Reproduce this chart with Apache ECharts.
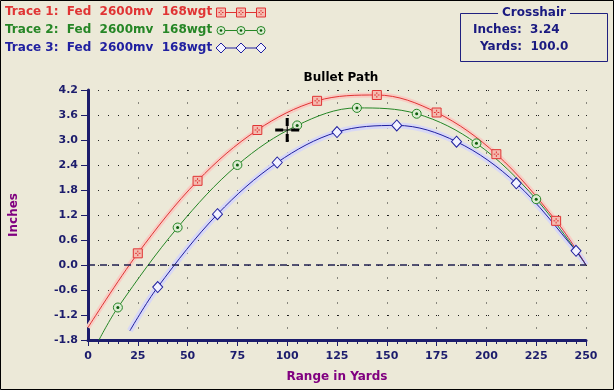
<!DOCTYPE html>
<html><head><meta charset="utf-8">
<script src="https://cdn.jsdelivr.net/npm/echarts@6/dist/echarts.min.js"></script>
<style>html,body{margin:0;padding:0;background:#ece9d8;}#c{width:614px;height:390px;}</style>
</head><body><div id="c"></div>
<script>
// ---- data ----
const traceNames = ['Trace 1:  Fed  2600mv  168wgt', 'Trace 2:  Fed  2600mv  168wgt', 'Trace 3:  Fed  2600mv  168wgt'];
const trace1X = [0, 25, 55, 85, 115, 145, 175, 205, 235, 250];
const trace1Y = [-1.50, 0.28, 2.02, 3.24, 3.94, 4.08, 3.66, 2.66, 1.06, 0.00];
const trace2X = [5.5, 15, 45, 75, 105, 135, 165, 195, 225, 250];
const trace2Y = [-1.80, -1.02, 0.90, 2.40, 3.35, 3.77, 3.63, 2.92, 1.58, 0.00];
const trace3X = [21, 35, 65, 95, 125, 155, 185, 215, 245, 250];
const trace3Y = [-1.58, -0.53, 1.22, 2.46, 3.19, 3.35, 2.96, 1.96, 0.34, 0.00];
const crossYards = [100.0];
const crossInches = [3.24];
const xTickLabels = ['0', '25', '50', '75', '100', '125', '150', '175', '200', '225', '250'];
const yTickLabels = ['-1.8', '-1.2', '-0.6', '0.0', '0.6', '1.2', '1.8', '2.4', '3.0', '3.6', '4.2'];

// ---- build ----
const pairs = (xs, ys) => xs.map((x, i) => [x, ys[i]]);
const marks = (xs, ys) => pairs(xs, ys).slice(1, 9);
const t1 = pairs(trace1X, trace1Y), t2 = pairs(trace2X, trace2Y), t3 = pairs(trace3X, trace3Y);

const RED = '#e03434', RED_FILL = '#f4bcb0', RED_HALO = '#f8cdc4';
const GREEN = '#268626', GREEN_FILL = '#dcecd2', GREEN_DOT = '#0e5e0e';
const BLUE = '#2020a0', BLUE_FILL = '#f2f2ff', BLUE_HALO = '#d8d8f6';
const NAVY = '#1c1c6c', PURPLE = '#800080';
const FONT = 'DejaVu Sans';
const squareSym = 'path://M0,0H10V10H0Z M5,2V4 M5,6V8 M2,5H4 M6,5H8';
const crossSym = 'path://M10.5,0h3v8h-3z M10.5,16h3v8h-3z M0,10.5h8v3h-8z M16,10.5h8v3h-8z M11.5,8h1v8h-1z M8,11.5h3.5v1h-3.5z M12.5,11.5h3.5v1h-3.5z';

const lineBase = {type: 'line', smooth: 0.35, showSymbol: false, symbol: 'none', silent: true, animation: false};

const chart = echarts.init(document.getElementById('c'), null, {renderer: 'canvas'});

const legendRows = [12, 30, 47.5];
const legendColors = [RED, GREEN, BLUE];
const graphics = [
  {type: 'rect', shape: {x: 0.5, y: 0.5, width: 613, height: 389}, style: {fill: 'none', stroke: '#000', lineWidth: 1}, z: 100},
  {type: 'rect', shape: {x: 460.5, y: 13.5, width: 147, height: 48}, style: {fill: 'none', stroke: '#202080', lineWidth: 1}},
  {type: 'text', x: 534, y: 13, style: {text: 'Crosshair', fill: '#1a1a80', font: 'bold 12px ' + FONT, align: 'center', verticalAlign: 'middle', backgroundColor: '#ece9d8', padding: [0, 4]}},
  {type: 'text', x: 473, y: 30, style: {text: 'Inches:  ' + crossInches[0].toFixed(2), fill: '#1a1a80', font: 'bold 12px ' + FONT, align: 'left', verticalAlign: 'middle'}},
  {type: 'text', x: 480, y: 47, style: {text: 'Yards:  ' + crossYards[0].toFixed(1), fill: '#1a1a80', font: 'bold 12px ' + FONT, align: 'left', verticalAlign: 'middle'}}
];
const seg = (x1, y1, x2, y2, c) => ({type: 'line', shape: {x1: x1, y1: y1, x2: x2, y2: y2}, style: {stroke: c, lineWidth: 1}});
legendRows.forEach((y, i) => {
  graphics.push({type: 'text', x: 5, y: y, style: {text: traceNames[i], fill: legendColors[i], font: 'bold 12px ' + FONT, align: 'left', verticalAlign: 'middle'}});
  graphics.push(seg(217, y + 0.5, 265, y + 0.5, legendColors[i]));
  [221, 241, 261].forEach(cx => {
    if (i === 0) {
      graphics.push({type: 'rect', shape: {x: cx - 4.5, y: y - 4, width: 9, height: 9}, style: {fill: RED_FILL, stroke: RED, lineWidth: 1}});
      graphics.push(seg(cx, y - 2, cx, y - 0.5, RED));
      graphics.push(seg(cx, y + 1.5, cx, y + 3, RED));
      graphics.push(seg(cx - 2.5, y + 0.5, cx - 1, y + 0.5, RED));
      graphics.push(seg(cx + 1, y + 0.5, cx + 2.5, y + 0.5, RED));
    } else if (i === 1) {
      graphics.push({type: 'circle', shape: {cx: cx, cy: y + 0.5, r: 4}, style: {fill: GREEN_FILL, stroke: GREEN, lineWidth: 1}});
      graphics.push({type: 'circle', shape: {cx: cx, cy: y + 0.5, r: 1.3}, style: {fill: GREEN_DOT}});
    } else {
      graphics.push({type: 'polygon', shape: {points: [[cx, y - 4.5], [cx + 5, y + 0.5], [cx, y + 5.5], [cx - 5, y + 0.5]]}, style: {fill: BLUE_FILL, stroke: BLUE, lineWidth: 1}});
    }
  });
});

chart.setOption({
  backgroundColor: '#ece9d8',
  animation: false,
  title: {text: 'Bullet Path', left: 336, top: 67, textAlign: 'center', textStyle: {fontFamily: FONT, fontSize: 12, fontWeight: 'bold', color: '#000'}},
  grid: {left: 86, right: 28, top: 90, bottom: 50, containLabel: false},
  xAxis: {
    type: 'value', min: 0, max: 250, interval: 25,
    name: 'Range in Yards', nameLocation: 'middle', nameGap: 31,
    nameTextStyle: {fontFamily: FONT, fontSize: 12, fontWeight: 'bold', color: PURPLE},
    axisLine: {show: true, onZero: false, lineStyle: {color: NAVY, width: 3}},
    axisTick: {show: true, length: 6, lineStyle: {color: NAVY, width: 1}},
    minorTick: {show: true, splitNumber: 5, length: 4, lineStyle: {color: NAVY, width: 1}},
    axisLabel: {margin: 11, fontFamily: FONT, fontSize: 11, fontWeight: 'bold', color: NAVY, formatter: v => xTickLabels[Math.round(v / 25)]},
    splitLine: {show: true, lineStyle: {color: '#222', width: 1, type: [1, 11.5]}}
  },
  yAxis: {
    type: 'value', min: -1.8, max: 4.2, interval: 0.6,
    name: 'Inches', nameLocation: 'middle', nameGap: 68, nameRotate: 90,
    nameTextStyle: {fontFamily: FONT, fontSize: 12, fontWeight: 'bold', color: PURPLE},
    axisLine: {show: true, onZero: false, lineStyle: {color: NAVY, width: 3}},
    axisTick: {show: true, length: 7, lineStyle: {color: NAVY, width: 1}},
    axisLabel: {margin: 10, fontFamily: FONT, fontSize: 11, fontWeight: 'bold', color: NAVY, formatter: v => yTickLabels[Math.round((v + 1.8) / 0.6)]},
    splitLine: {show: true, lineStyle: {color: '#222', width: 1, type: [1, 9]}}
  },
  graphic: graphics,
  series: [
    Object.assign({}, lineBase, {data: t1, z: 1, lineStyle: {color: RED_HALO, width: 5}}),
    Object.assign({}, lineBase, {data: t3, z: 1, lineStyle: {color: BLUE_HALO, width: 6}}),
    Object.assign({}, lineBase, {data: t2, z: 2, lineStyle: {color: GREEN, width: 1},
      markLine: {silent: true, symbol: 'none', label: {show: false}, lineStyle: {color: '#202050', width: 1.6, type: [7, 5]}, data: [{yAxis: 0}]}}),
    Object.assign({}, lineBase, {data: t1, z: 3, lineStyle: {color: RED, width: 1}}),
    Object.assign({}, lineBase, {data: t3, z: 3, lineStyle: {color: BLUE, width: 1}}),
    {type: 'scatter', data: marks(trace1X, trace1Y), symbol: squareSym, symbolSize: 9, z: 5, silent: true,
      itemStyle: {color: RED_FILL, borderColor: RED, borderWidth: 1, opacity: 1}},
    {type: 'scatter', data: marks(trace2X, trace2Y), symbol: 'circle', symbolSize: 9, z: 5, silent: true,
      itemStyle: {color: GREEN_FILL, borderColor: GREEN, borderWidth: 1, opacity: 1}},
    {type: 'scatter', data: marks(trace2X, trace2Y), symbol: 'circle', symbolSize: 3, z: 6, silent: true,
      itemStyle: {color: GREEN_DOT, opacity: 1}},
    {type: 'scatter', data: marks(trace3X, trace3Y), symbol: 'diamond', symbolSize: [10, 11], z: 5, silent: true,
      itemStyle: {color: BLUE_FILL, borderColor: BLUE, borderWidth: 1, opacity: 1}},
    {type: 'scatter', data: pairs(crossYards, crossInches), symbol: crossSym, symbolSize: 24, z: 7, silent: true,
      itemStyle: {color: '#000', opacity: 1}}
  ]
});
</script></body></html>
